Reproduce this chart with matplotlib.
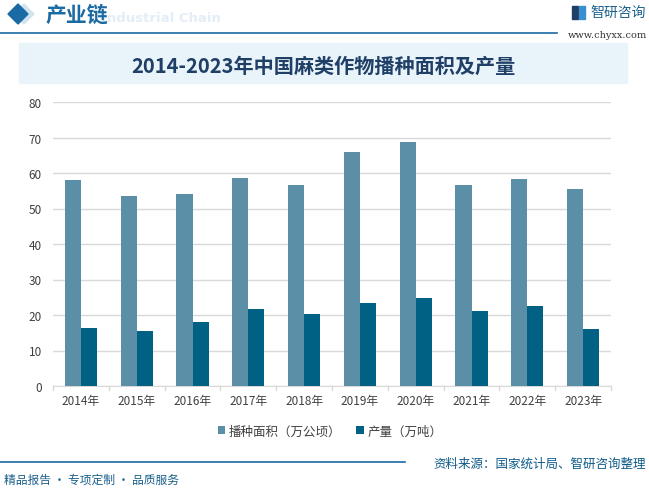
import numpy as np
import matplotlib
matplotlib.use('Agg')
import matplotlib.pyplot as plt
from matplotlib.patches import Rectangle, Polygon

plt.rcParams['font.family'] = ['Noto Sans CJK SC', 'DejaVu Sans']

# 数据
years = ['2014年', '2015年', '2016年', '2017年', '2018年',
         '2019年', '2020年', '2021年', '2022年', '2023年']
area = [57.9, 53.4, 54.0, 58.5, 56.5, 65.8, 68.6, 56.5, 58.2, 55.4]
output = [16.3, 15.4, 17.9, 21.6, 20.2, 23.3, 24.7, 21.0, 22.4, 16.0]
area_label = '播种面积（万公顷）'
output_label = '产量（万吨）'

W, H = 649, 489
fig = plt.figure(figsize=(W / 100, H / 100), dpi=100)

def px(x, y):
    # 像素坐标 -> figure 坐标
    return x / W, 1 - y / H

# 顶部标题栏
fig.patches.append(Polygon([px(14, 15), px(24, 5), px(34, 15), px(24, 25)], closed=True,
                           transform=fig.transFigure, color='#d3e4ef', zorder=1))
fig.patches.append(Polygon([px(8, 15), px(18, 5), px(28, 15), px(18, 25)], closed=True,
                           transform=fig.transFigure, color='#1a6aa3', zorder=2))
fig.text(*px(102, 19), 'Industrial Chain', fontsize=9.5, fontweight='bold', color='#e3eef7',
         va='center', ha='left', family='DejaVu Sans', zorder=1)
fig.text(*px(46, 15), '产业链', fontsize=15, fontweight='bold', color='#1a6aa3',
         va='center', ha='left', zorder=3)
fig.add_artist(plt.Line2D([0, 557 / W], [1 - 34 / H] * 2, color='#1a6aa3', lw=1.2))
# logo 小图标
fig.patches.append(Rectangle(px(572, 20), 6 / W, 13 / H, transform=fig.transFigure,
                             color='#1f3f66', zorder=2))
fig.patches.append(Rectangle(px(579, 20), 6 / W, 13 / H, transform=fig.transFigure,
                             color='#3a8fd0', zorder=2))
fig.text(*px(590, 13), '智研咨询', fontsize=10, color='#1a5f8a', va='center', ha='left')
fig.text(*px(568, 35), 'www.chyxx.com', fontsize=7, color='#333333', va='center', ha='left',
         family='DejaVu Serif')

# 图表标题
fig.patches.append(Rectangle(px(19, 84), (627 - 19) / W, 40 / H, transform=fig.transFigure,
                             color='#e8f3fa', zorder=0))
fig.text(*px(323, 66), '2014-2023年中国麻类作物播种面积及产量', fontsize=14.5, fontweight='bold',
         color='#1f3f66', va='center', ha='center')

# 主图
ax = fig.add_axes([53 / W, 1 - 387 / H, (611 - 53) / W, (387 - 103) / H])
x = np.arange(len(years))
bw = 0.29
ax.bar(x - bw / 2, area, bw, color='#5b8fa8', label=area_label, zorder=3)
ax.bar(x + bw / 2, output, bw, color='#016184', label=output_label, zorder=3)
ax.set_xlim(-0.5, len(years) - 0.5)
ax.set_ylim(0, 80)
ax.set_yticks(range(0, 81, 10))
ax.set_xticks(x)
ax.set_xticklabels(years)
ax.yaxis.grid(True, color='#d9d9d9', lw=1, zorder=0)
for s in ['top', 'right', 'left']:
    ax.spines[s].set_visible(False)
ax.spines['bottom'].set_color('#d9d9d9')
ax.tick_params(axis='y', length=0, labelsize=8.5, labelcolor='#404040', pad=8)
ax.tick_params(axis='x', length=0, labelsize=8.5, labelcolor='#404040', pad=6)
for xb in np.arange(-0.5, len(years), 1):
    ax.plot([xb, xb], [0, -1.2], color='#d9d9d9', lw=1, clip_on=False)

fig.legend(loc='center', bbox_to_anchor=px(330, 432), ncol=2, frameon=False, fontsize=9,
           handlelength=0.6, handleheight=0.6, handletextpad=0.3, columnspacing=1.2,
           labelcolor='#404040')

# 底部
fig.add_artist(plt.Line2D([0, 405 / W], [1 - 463 / H] * 2, color='#1a6aa3', lw=1.2))
fig.text(*px(646, 464), '资料来源：国家统计局、智研咨询整理', fontsize=9, color='#0e5a8a',
         va='center', ha='right')
fig.text(*px(4, 480), '精品报告 · 专项定制 · 品质服务', fontsize=8.5, color='#1a5f8a',
         va='center', ha='left')

fig.savefig('out.png', dpi=100)
